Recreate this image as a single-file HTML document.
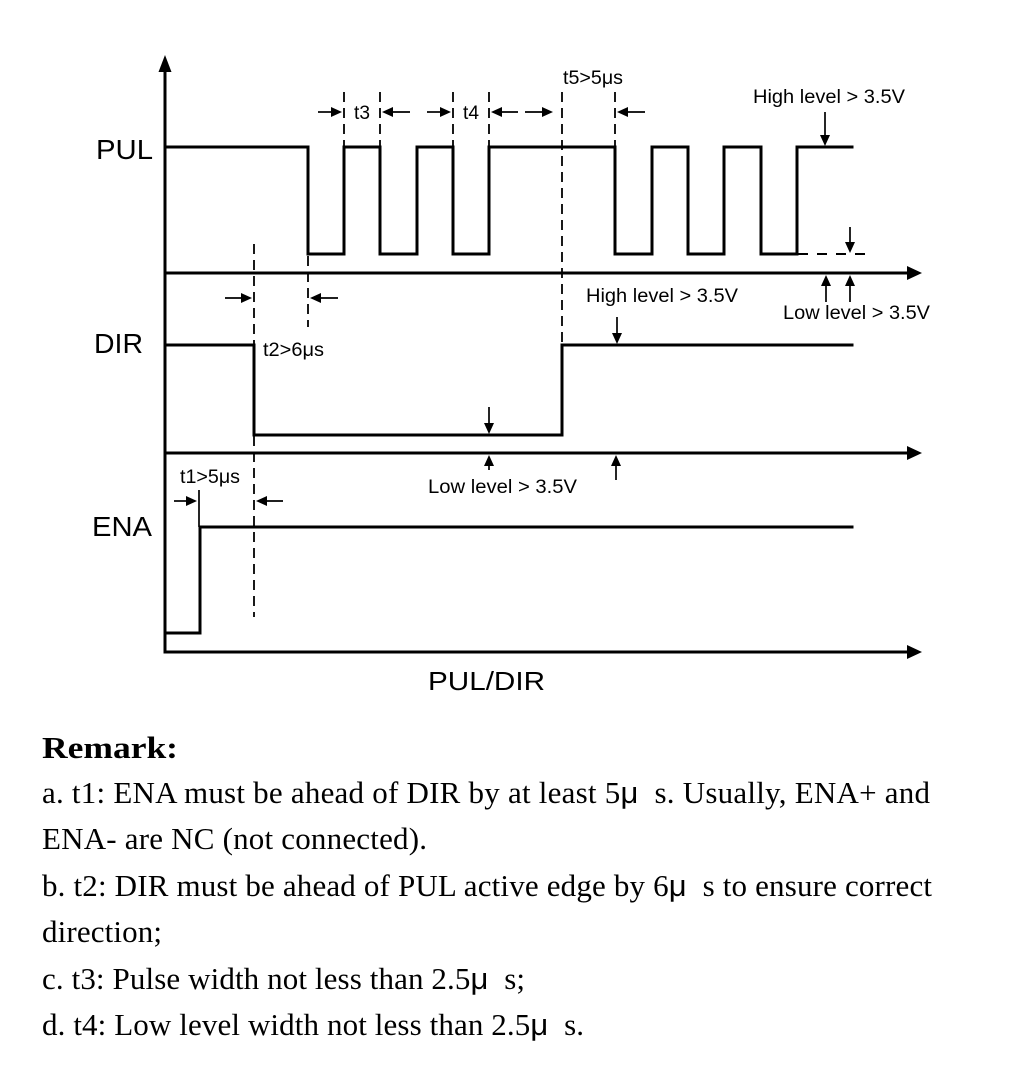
<!DOCTYPE html>
<html>
<head>
<meta charset="utf-8">
<style>
  html,body{margin:0;padding:0;background:#fff;}
  svg{display:block;}
  .sig{fill:none;stroke:#000;stroke-width:3;stroke-linejoin:miter;stroke-linecap:square;}
  .ax{fill:none;stroke:#000;stroke-width:3;}
  .dash{fill:none;stroke:#000;stroke-width:1.8;stroke-dasharray:10,6;}
  .thin{fill:none;stroke:#000;stroke-width:1.7;}
  .lab{font-family:"Liberation Sans",Arial,sans-serif;fill:#000;}
  .body{font-family:"Liberation Serif","Times New Roman",serif;fill:#000;font-size:31px;}
  .mu{font-family:"Liberation Sans",Arial,sans-serif;}
</style>
</head>
<body>
<svg width="1026" height="1077" viewBox="0 0 1026 1077" xmlns="http://www.w3.org/2000/svg">
  <rect x="0" y="0" width="1026" height="1077" fill="#fff"/>

  <!-- Axes -->
  <line class="ax" x1="165" y1="68" x2="165" y2="653.5"/>
  <polygon points="165,55 158.5,72 171.5,72" fill="#000"/>
  <line class="ax" x1="163.5" y1="273" x2="910" y2="273"/>
  <polygon points="922,273 907,266 907,280" fill="#000"/>
  <line class="ax" x1="163.5" y1="453" x2="910" y2="453"/>
  <polygon points="922,453 907,446 907,460" fill="#000"/>
  <line class="ax" x1="163.5" y1="652" x2="910" y2="652"/>
  <polygon points="922,652 907,645 907,659" fill="#000"/>

  <!-- PUL signal -->
  <polyline class="sig" points="165,147 308,147 308,254 344,254 344,147 380,147 380,254 417,254 417,147 453,147 453,254 489,254 489,147 615,147 615,254 652,254 652,147 688,147 688,254 724,254 724,147 761,147 761,254 797,254 797,147 852,147"/>
  <line x1="798" y1="254" x2="867" y2="254" stroke="#000" stroke-width="2" stroke-dasharray="10,9"/>

  <!-- DIR signal -->
  <polyline class="sig" points="165,345 254,345 254,435 562,435 562,345 852,345"/>

  <!-- ENA signal -->
  <polyline class="sig" points="165,633 200,633 200,527 852,527"/>

  <!-- Dashed verticals -->
  <line class="dash" x1="254" y1="244" x2="254" y2="617"/>
  <line class="dash" x1="308" y1="256" x2="308" y2="327"/>
  <line class="dash" x1="344" y1="92" x2="344" y2="146"/>
  <line class="dash" x1="380" y1="92" x2="380" y2="146"/>
  <line class="dash" x1="453" y1="92" x2="453" y2="146"/>
  <line class="dash" x1="489" y1="92" x2="489" y2="146"/>
  <line class="dash" x1="562" y1="92" x2="562" y2="345"/>
  <line class="dash" x1="615" y1="92" x2="615" y2="146"/>
  <line class="thin" x1="199" y1="490" x2="199" y2="527"/>

  <g fill="#000">
    <!-- t3/t4/t5 row -->
    <line class="thin" x1="318" y1="112" x2="334" y2="112"/><polygon points="342,112 331,107 331,117"/>
    <line class="thin" x1="410" y1="112" x2="390" y2="112"/><polygon points="382,112 393,107 393,117"/>
    <line class="thin" x1="427" y1="112" x2="443" y2="112"/><polygon points="451,112 440,107 440,117"/>
    <line class="thin" x1="518" y1="112" x2="499" y2="112"/><polygon points="491,112 502,107 502,117"/>
    <line class="thin" x1="525" y1="112" x2="545" y2="112"/><polygon points="553,112 542,107 542,117"/>
    <line class="thin" x1="645" y1="112" x2="625" y2="112"/><polygon points="617,112 628,107 628,117"/>

    <!-- t2 row -->
    <line class="thin" x1="225" y1="298" x2="244" y2="298"/><polygon points="252,298 241,293 241,303"/>
    <line class="thin" x1="338" y1="298" x2="318" y2="298"/><polygon points="310,298 321,293 321,303"/>

    <!-- t1 row -->
    <line class="thin" x1="174" y1="501" x2="189" y2="501"/><polygon points="197,501 186,496 186,506"/>
    <line class="thin" x1="283" y1="501" x2="264" y2="501"/><polygon points="256,501 267,496 267,506"/>

    <!-- Vertical arrows -->
    <line class="thin" x1="825" y1="112" x2="825" y2="138"/><polygon points="825,146 820,135 830,135"/>
    <line class="thin" x1="850" y1="227" x2="850" y2="245"/><polygon points="850,253 845,242 855,242"/>
    <line class="thin" x1="826" y1="302" x2="826" y2="283"/><polygon points="826,275 821,286 831,286"/>
    <line class="thin" x1="850" y1="302" x2="850" y2="283"/><polygon points="850,275 845,286 855,286"/>
    <line class="thin" x1="617" y1="317" x2="617" y2="336"/><polygon points="617,344 612,333 622,333"/>
    <line class="thin" x1="489" y1="407" x2="489" y2="426"/><polygon points="489,434 484,423 494,423"/>
    <line class="thin" x1="489" y1="470" x2="489" y2="463"/><polygon points="489,455 484,466 494,466"/>
    <line class="thin" x1="616" y1="480" x2="616" y2="463"/><polygon points="616,455 611,466 621,466"/>
  </g>

  <!-- Diagram labels -->
  <text class="lab" x="96" y="159" font-size="28" textLength="57" lengthAdjust="spacingAndGlyphs">PUL</text>
  <text class="lab" x="94" y="353" font-size="28" textLength="49" lengthAdjust="spacingAndGlyphs">DIR</text>
  <text class="lab" x="92" y="536" font-size="28" textLength="60" lengthAdjust="spacingAndGlyphs">ENA</text>
  <text class="lab" x="428" y="690" font-size="26" textLength="117" lengthAdjust="spacingAndGlyphs">PUL/DIR</text>

  <text class="lab" x="563" y="84" font-size="19" textLength="60" lengthAdjust="spacingAndGlyphs">t5&gt;5μs</text>
  <text class="lab" x="354" y="119" font-size="19" textLength="16" lengthAdjust="spacingAndGlyphs">t3</text>
  <text class="lab" x="463" y="119" font-size="19" textLength="16" lengthAdjust="spacingAndGlyphs">t4</text>
  <text class="lab" x="753" y="103" font-size="19" textLength="152" lengthAdjust="spacingAndGlyphs">High level &gt; 3.5V</text>
  <text class="lab" x="783" y="319" font-size="19" textLength="147" lengthAdjust="spacingAndGlyphs">Low level &gt; 3.5V</text>
  <text class="lab" x="586" y="302" font-size="19" textLength="152" lengthAdjust="spacingAndGlyphs">High level &gt; 3.5V</text>
  <text class="lab" x="263" y="356" font-size="19" textLength="61" lengthAdjust="spacingAndGlyphs">t2&gt;6μs</text>
  <text class="lab" x="428" y="493" font-size="19" textLength="149" lengthAdjust="spacingAndGlyphs">Low level &gt; 3.5V</text>
  <text class="lab" x="180" y="483" font-size="19" textLength="60" lengthAdjust="spacingAndGlyphs">t1&gt;5μs</text>

  <!-- Remarks -->
  <text class="body" x="42" y="758" font-size="33" font-weight="bold" textLength="136" lengthAdjust="spacingAndGlyphs">Remark:</text>
  <text class="body" x="42" y="803" textLength="888">a. t1: ENA must be ahead of DIR by at least 5<tspan class="mu">μ</tspan>&#160; s. Usually, ENA+ and</text>
  <text class="body" x="42" y="849" textLength="385">ENA- are NC (not connected).</text>
  <text class="body" x="42" y="896" textLength="890">b. t2: DIR must be ahead of PUL active edge by 6<tspan class="mu">μ</tspan>&#160; s to ensure correct</text>
  <text class="body" x="42" y="942" textLength="120">direction;</text>
  <text class="body" x="42" y="989" textLength="483">c. t3: Pulse width not less than 2.5<tspan class="mu">μ</tspan>&#160; s;</text>
  <text class="body" x="42" y="1035" textLength="542">d. t4: Low level width not less than 2.5<tspan class="mu">μ</tspan>&#160; s.</text>
</svg>
</body>
</html>
